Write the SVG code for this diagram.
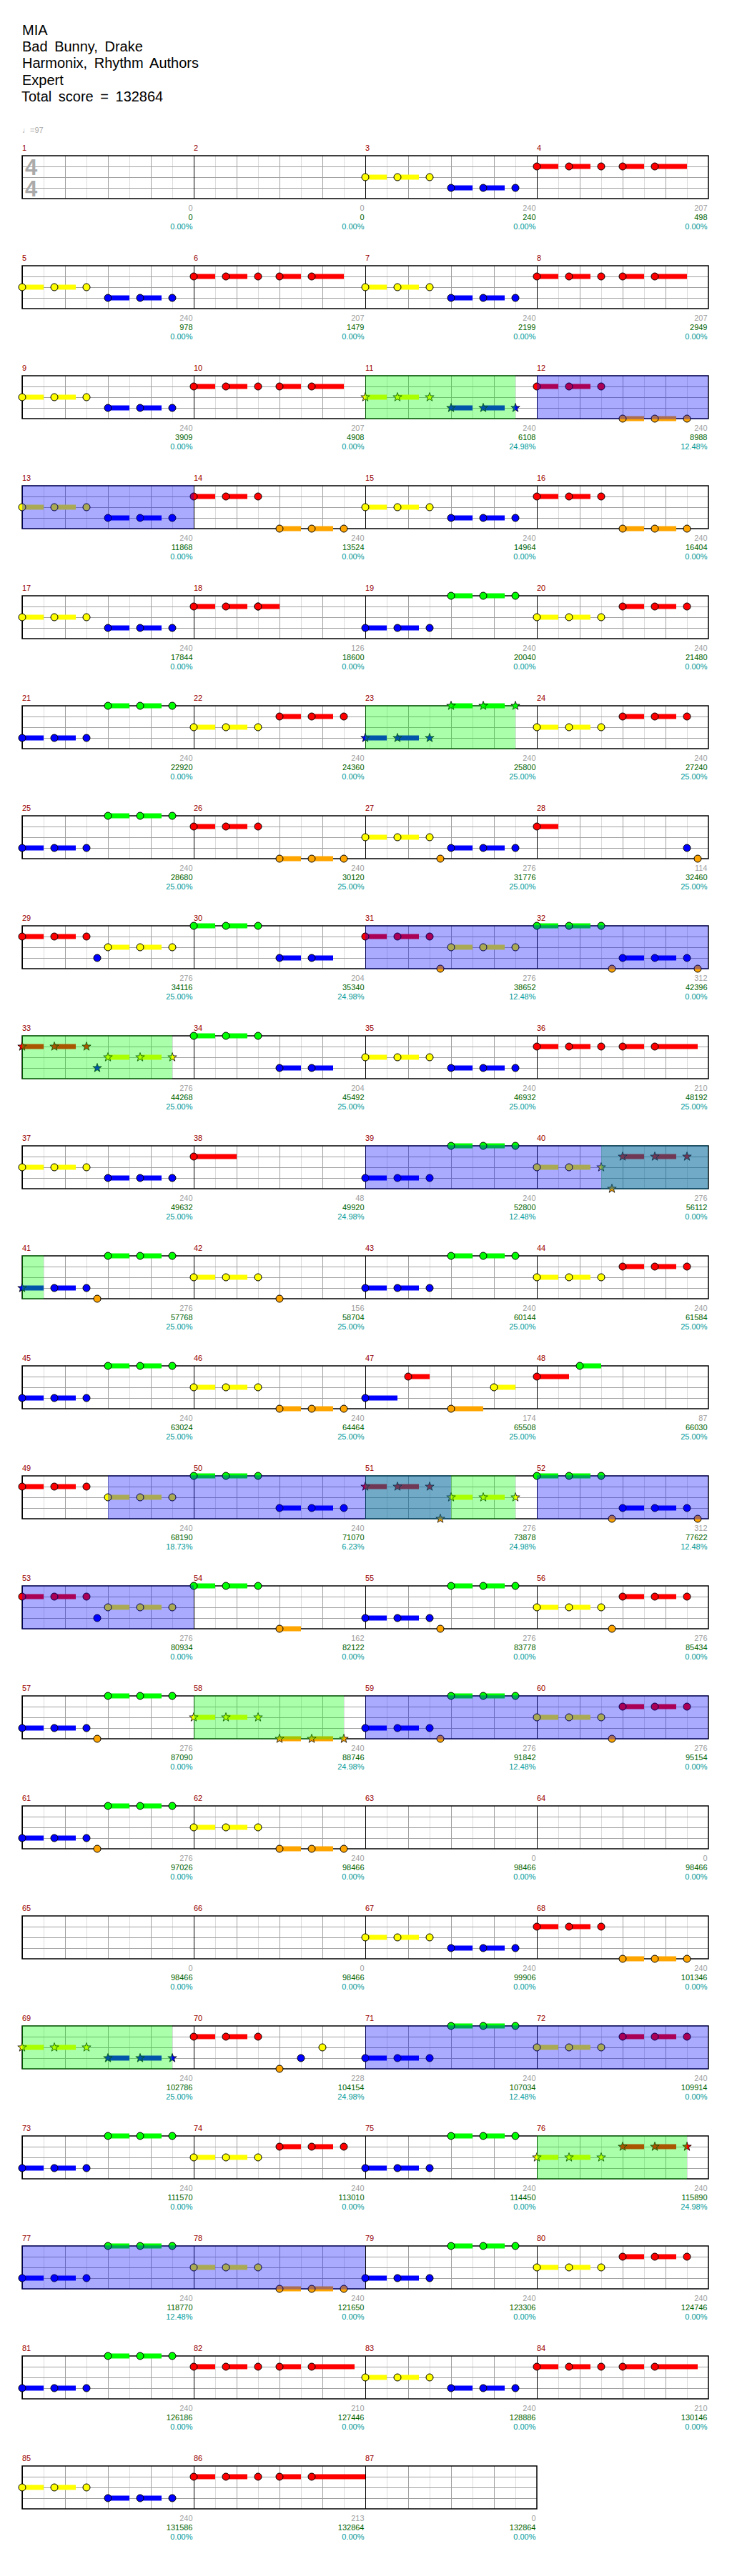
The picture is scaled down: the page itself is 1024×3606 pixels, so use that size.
<svg xmlns="http://www.w3.org/2000/svg" xmlns:xlink="http://www.w3.org/1999/xlink" width="1024" height="3606" viewBox="0 0 1024 3606">
<style>
.G{fill:#00ff00}.R{fill:#ff0000}.Y{fill:#ffff00}.B{fill:#0000ff}.O{fill:#ffa500}
.gl{stroke:#dcdcdc;fill:none;shape-rendering:crispEdges}
.gd{stroke:#a0a0a0;fill:none;shape-rendering:crispEdges}
.gk{stroke:#000;fill:none;shape-rendering:crispEdges}
.bd{fill:none;stroke:#000;stroke-width:1.5}
text{font-family:"Liberation Sans",Arial,"DejaVu Sans",sans-serif}
.ti{font-size:20px;fill:#000;word-spacing:4px}
.tp{font-size:11px;fill:#aaaaaa}
.ts{font-size:31px;font-weight:bold;fill:#aaaaaa}
.mn{font-size:11px;fill:#990000}
.a,.b,.c{font-size:11px;text-anchor:end}
.a{fill:#a0a0a0}.b{fill:#006400}.c{fill:#009999}
.ov1{fill:#00ff00;fill-opacity:.333}
.ov2{fill:#0000ff;fill-opacity:.333}
</style>
<defs>
<circle id="hd" r="5" stroke="#000" stroke-width="1"/>
<path id="st" d="M0,-6.5L1.53,-2.1 6.18,-2.01 2.47,0.8 3.82,5.26 0,2.6 -3.82,5.26 -2.47,0.8 -6.18,-2.01 -1.53,-2.1Z" stroke="#000" stroke-width=".8"/>
<g id="t3"><rect y="-3.5" width="30" height="7"/><rect x="45" y="-3.5" width="30" height="7"/><use href="#hd"/><use href="#hd" x="45"/><use href="#hd" x="90"/></g>
<g id="s3"><rect y="-3.5" width="30" height="7"/><rect x="45" y="-3.5" width="30" height="7"/><use href="#st"/><use href="#st" x="45"/><use href="#st" x="90"/></g>
<g id="rp3"><use href="#t3"/><rect x="120" y="-3.5" width="30" height="7"/><rect x="165" y="-3.5" width="45" height="7"/><use href="#hd" x="120"/><use href="#hd" x="165"/></g>
<g id="rp4"><use href="#t3"/><rect x="120" y="-3.5" width="30" height="7"/><rect x="165" y="-3.5" width="60" height="7"/><use href="#hd" x="120"/><use href="#hd" x="165"/></g>
<g id="rp5"><use href="#t3"/><rect x="120" y="-3.5" width="30" height="7"/><rect x="165" y="-3.5" width="75" height="7"/><use href="#hd" x="120"/><use href="#hd" x="165"/></g>
<g id="mg">
<path class="gl" d="M30 0V60M90 0V60M150 0V60M210 0V60"/>
<path class="gd" d="M60 0V60M120 0V60M180 0V60M0 15H240M0 30H240M0 45H240"/>
<path class="gk" d="M0 0V60"/>
</g>
<g id="g4"><use href="#mg"/><use href="#mg" x="240"/><use href="#mg" x="480"/><use href="#mg" x="720"/><rect width="960" height="60" class="bd"/></g>
<g id="g3"><use href="#mg"/><use href="#mg" x="240"/><use href="#mg" x="480"/><rect width="720" height="60" class="bd"/></g>
</defs>
<rect width="1024" height="3606" fill="#fff"/>
<g id="header">
<text class="ti" x="31" y="49">MIA</text>
<text class="ti" x="31" y="72">Bad Bunny, Drake</text>
<text class="ti" x="31" y="95">Harmonix, Rhythm Authors</text>
<text class="ti" x="31" y="118.5">Expert</text>
<text class="ti" x="30" y="141.5">Total score = 132864</text>
<text class="tp" x="31" y="186">♩=97</text>
</g>
<g id="grid">
<use href="#g4" x="31" y="218"/><use href="#g4" x="31" y="372"/><use href="#g4" x="31" y="526"/><use href="#g4" x="31" y="680"/>
<use href="#g4" x="31" y="834"/><use href="#g4" x="31" y="988"/><use href="#g4" x="31" y="1142"/><use href="#g4" x="31" y="1296"/>
<use href="#g4" x="31" y="1450"/><use href="#g4" x="31" y="1604"/><use href="#g4" x="31" y="1758"/><use href="#g4" x="31" y="1912"/>
<use href="#g4" x="31" y="2066"/><use href="#g4" x="31" y="2220"/><use href="#g4" x="31" y="2374"/><use href="#g4" x="31" y="2528"/>
<use href="#g4" x="31" y="2682"/><use href="#g4" x="31" y="2836"/><use href="#g4" x="31" y="2990"/><use href="#g4" x="31" y="3144"/>
<use href="#g4" x="31" y="3298"/><use href="#g3" x="31" y="3452"/>
<text class="ts" x="35" y="245">4</text><text class="ts" x="35" y="275">4</text>
</g>
<g id="measures">
<g id="m1" transform="translate(31,218)"><text class="mn" y="-7">1</text><text class="a" x="238.5" y="77">0</text><text class="b" x="238.5" y="90">0</text><text class="c" x="238.5" y="103">0.00%</text></g>
<g id="m2" transform="translate(271,218)"><text class="mn" y="-7">2</text><text class="a" x="238.5" y="77">0</text><text class="b" x="238.5" y="90">0</text><text class="c" x="238.5" y="103">0.00%</text></g>
<g id="m3" transform="translate(511,218)"><text class="mn" y="-7">3</text><use href="#t3" class="Y" y="30"/><use href="#t3" class="B" x="120" y="45"/><text class="a" x="238.5" y="77">240</text><text class="b" x="238.5" y="90">240</text><text class="c" x="238.5" y="103">0.00%</text></g>
<g id="m4" transform="translate(751,218)"><text class="mn" y="-7">4</text><use href="#rp3" class="R" y="15"/><text class="a" x="238.5" y="77">207</text><text class="b" x="238.5" y="90">498</text><text class="c" x="238.5" y="103">0.00%</text></g>

<g id="m5" transform="translate(31,372)"><text class="mn" y="-7">5</text><use href="#t3" class="Y" y="30"/><use href="#t3" class="B" x="120" y="45"/><text class="a" x="238.5" y="77">240</text><text class="b" x="238.5" y="90">978</text><text class="c" x="238.5" y="103">0.00%</text></g>
<g id="m6" transform="translate(271,372)"><text class="mn" y="-7">6</text><use href="#rp3" class="R" y="15"/><text class="a" x="238.5" y="77">207</text><text class="b" x="238.5" y="90">1479</text><text class="c" x="238.5" y="103">0.00%</text></g>
<g id="m7" transform="translate(511,372)"><text class="mn" y="-7">7</text><use href="#t3" class="Y" y="30"/><use href="#t3" class="B" x="120" y="45"/><text class="a" x="238.5" y="77">240</text><text class="b" x="238.5" y="90">2199</text><text class="c" x="238.5" y="103">0.00%</text></g>
<g id="m8" transform="translate(751,372)"><text class="mn" y="-7">8</text><use href="#rp3" class="R" y="15"/><text class="a" x="238.5" y="77">207</text><text class="b" x="238.5" y="90">2949</text><text class="c" x="238.5" y="103">0.00%</text></g>

<g id="m9" transform="translate(31,526)"><text class="mn" y="-7">9</text><use href="#t3" class="Y" y="30"/><use href="#t3" class="B" x="120" y="45"/><text class="a" x="238.5" y="77">240</text><text class="b" x="238.5" y="90">3909</text><text class="c" x="238.5" y="103">0.00%</text></g>
<g id="m10" transform="translate(271,526)"><text class="mn" y="-7">10</text><use href="#rp3" class="R" y="15"/><text class="a" x="238.5" y="77">207</text><text class="b" x="238.5" y="90">4908</text><text class="c" x="238.5" y="103">0.00%</text></g>
<g id="m11" transform="translate(511,526)"><text class="mn" y="-7">11</text><use href="#s3" class="Y" y="30"/><use href="#s3" class="B" x="120" y="45"/><text class="a" x="238.5" y="77">240</text><text class="b" x="238.5" y="90">6108</text><text class="c" x="238.5" y="103">24.98%</text></g>
<g id="m12" transform="translate(751,526)"><text class="mn" y="-7">12</text><use href="#t3" class="R" y="15"/><use href="#t3" class="O" x="120" y="60"/><text class="a" x="238.5" y="77">240</text><text class="b" x="238.5" y="90">8988</text><text class="c" x="238.5" y="103">12.48%</text></g>

<g id="m13" transform="translate(31,680)"><text class="mn" y="-7">13</text><use href="#t3" class="Y" y="30"/><use href="#t3" class="B" x="120" y="45"/><text class="a" x="238.5" y="77">240</text><text class="b" x="238.5" y="90">11868</text><text class="c" x="238.5" y="103">0.00%</text></g>
<g id="m14" transform="translate(271,680)"><text class="mn" y="-7">14</text><use href="#t3" class="R" y="15"/><use href="#t3" class="O" x="120" y="60"/><text class="a" x="238.5" y="77">240</text><text class="b" x="238.5" y="90">13524</text><text class="c" x="238.5" y="103">0.00%</text></g>
<g id="m15" transform="translate(511,680)"><text class="mn" y="-7">15</text><use href="#t3" class="Y" y="30"/><use href="#t3" class="B" x="120" y="45"/><text class="a" x="238.5" y="77">240</text><text class="b" x="238.5" y="90">14964</text><text class="c" x="238.5" y="103">0.00%</text></g>
<g id="m16" transform="translate(751,680)"><text class="mn" y="-7">16</text><use href="#t3" class="R" y="15"/><use href="#t3" class="O" x="120" y="60"/><text class="a" x="238.5" y="77">240</text><text class="b" x="238.5" y="90">16404</text><text class="c" x="238.5" y="103">0.00%</text></g>

<g id="m17" transform="translate(31,834)"><text class="mn" y="-7">17</text><use href="#t3" class="Y" y="30"/><use href="#t3" class="B" x="120" y="45"/><text class="a" x="238.5" y="77">240</text><text class="b" x="238.5" y="90">17844</text><text class="c" x="238.5" y="103">0.00%</text></g>
<g id="m18" transform="translate(271,834)"><text class="mn" y="-7">18</text><use href="#t3" class="R" y="15"/><rect class="R" x="90" y="11.5" width="30" height="7"/><use href="#hd" class="R" x="90" y="15"/><text class="a" x="238.5" y="77">126</text><text class="b" x="238.5" y="90">18600</text><text class="c" x="238.5" y="103">0.00%</text></g>
<g id="m19" transform="translate(511,834)"><text class="mn" y="-7">19</text><use href="#t3" class="B" y="45"/><use href="#t3" class="G" x="120"/><text class="a" x="238.5" y="77">240</text><text class="b" x="238.5" y="90">20040</text><text class="c" x="238.5" y="103">0.00%</text></g>
<g id="m20" transform="translate(751,834)"><text class="mn" y="-7">20</text><use href="#t3" class="Y" y="30"/><use href="#t3" class="R" x="120" y="15"/><text class="a" x="238.5" y="77">240</text><text class="b" x="238.5" y="90">21480</text><text class="c" x="238.5" y="103">0.00%</text></g>

<g id="m21" transform="translate(31,988)"><text class="mn" y="-7">21</text><use href="#t3" class="B" y="45"/><use href="#t3" class="G" x="120"/><text class="a" x="238.5" y="77">240</text><text class="b" x="238.5" y="90">22920</text><text class="c" x="238.5" y="103">0.00%</text></g>
<g id="m22" transform="translate(271,988)"><text class="mn" y="-7">22</text><use href="#t3" class="Y" y="30"/><use href="#t3" class="R" x="120" y="15"/><text class="a" x="238.5" y="77">240</text><text class="b" x="238.5" y="90">24360</text><text class="c" x="238.5" y="103">0.00%</text></g>
<g id="m23" transform="translate(511,988)"><text class="mn" y="-7">23</text><use href="#s3" class="B" y="45"/><use href="#s3" class="G" x="120"/><text class="a" x="238.5" y="77">240</text><text class="b" x="238.5" y="90">25800</text><text class="c" x="238.5" y="103">25.00%</text></g>
<g id="m24" transform="translate(751,988)"><text class="mn" y="-7">24</text><use href="#t3" class="Y" y="30"/><use href="#t3" class="R" x="120" y="15"/><text class="a" x="238.5" y="77">240</text><text class="b" x="238.5" y="90">27240</text><text class="c" x="238.5" y="103">25.00%</text></g>

<g id="m25" transform="translate(31,1142)"><text class="mn" y="-7">25</text><use href="#t3" class="B" y="45"/><use href="#t3" class="G" x="120"/><text class="a" x="238.5" y="77">240</text><text class="b" x="238.5" y="90">28680</text><text class="c" x="238.5" y="103">25.00%</text></g>
<g id="m26" transform="translate(271,1142)"><text class="mn" y="-7">26</text><use href="#t3" class="R" y="15"/><use href="#t3" class="O" x="120" y="60"/><text class="a" x="238.5" y="77">240</text><text class="b" x="238.5" y="90">30120</text><text class="c" x="238.5" y="103">25.00%</text></g>
<g id="m27" transform="translate(511,1142)"><text class="mn" y="-7">27</text><use href="#t3" class="Y" y="30"/><use href="#hd" class="O" x="105" y="60"/><use href="#t3" class="B" x="120" y="45"/><text class="a" x="238.5" y="77">276</text><text class="b" x="238.5" y="90">31776</text><text class="c" x="238.5" y="103">25.00%</text></g>
<g id="m28" transform="translate(751,1142)"><text class="mn" y="-7">28</text><rect class="R" y="11.5" width="30" height="7"/><use href="#hd" class="R" y="15"/><use href="#hd" class="B" x="210" y="45"/><use href="#hd" class="O" x="225" y="60"/><text class="a" x="238.5" y="77">114</text><text class="b" x="238.5" y="90">32460</text><text class="c" x="238.5" y="103">25.00%</text></g>

<g id="m29" transform="translate(31,1296)"><text class="mn" y="-7">29</text><use href="#t3" class="R" y="15"/><use href="#hd" class="B" x="105" y="45"/><use href="#t3" class="Y" x="120" y="30"/><text class="a" x="238.5" y="77">276</text><text class="b" x="238.5" y="90">34116</text><text class="c" x="238.5" y="103">25.00%</text></g>
<g id="m30" transform="translate(271,1296)"><text class="mn" y="-7">30</text><use href="#t3" class="G"/><rect class="B" x="120" y="41.5" width="30" height="7"/><rect class="B" x="165" y="41.5" width="30" height="7"/><use href="#hd" class="B" x="120" y="45"/><use href="#hd" class="B" x="165" y="45"/><text class="a" x="238.5" y="77">204</text><text class="b" x="238.5" y="90">35340</text><text class="c" x="238.5" y="103">24.98%</text></g>
<g id="m31" transform="translate(511,1296)"><text class="mn" y="-7">31</text><use href="#t3" class="R" y="15"/><use href="#hd" class="O" x="105" y="60"/><use href="#t3" class="Y" x="120" y="30"/><text class="a" x="238.5" y="77">276</text><text class="b" x="238.5" y="90">38652</text><text class="c" x="238.5" y="103">12.48%</text></g>
<g id="m32" transform="translate(751,1296)"><text class="mn" y="-7">32</text><use href="#t3" class="G"/><use href="#hd" class="O" x="105" y="60"/><use href="#t3" class="B" x="120" y="45"/><use href="#hd" class="O" x="225" y="60"/><text class="a" x="238.5" y="77">312</text><text class="b" x="238.5" y="90">42396</text><text class="c" x="238.5" y="103">0.00%</text></g>

<g id="m33" transform="translate(31,1450)"><text class="mn" y="-7">33</text><use href="#s3" class="R" y="15"/><use href="#st" class="B" x="105" y="45"/><use href="#s3" class="Y" x="120" y="30"/><text class="a" x="238.5" y="77">276</text><text class="b" x="238.5" y="90">44268</text><text class="c" x="238.5" y="103">25.00%</text></g>
<g id="m34" transform="translate(271,1450)"><text class="mn" y="-7">34</text><use href="#t3" class="G"/><rect class="B" x="120" y="41.5" width="30" height="7"/><rect class="B" x="165" y="41.5" width="30" height="7"/><use href="#hd" class="B" x="120" y="45"/><use href="#hd" class="B" x="165" y="45"/><text class="a" x="238.5" y="77">204</text><text class="b" x="238.5" y="90">45492</text><text class="c" x="238.5" y="103">25.00%</text></g>
<g id="m35" transform="translate(511,1450)"><text class="mn" y="-7">35</text><use href="#t3" class="Y" y="30"/><use href="#t3" class="B" x="120" y="45"/><text class="a" x="238.5" y="77">240</text><text class="b" x="238.5" y="90">46932</text><text class="c" x="238.5" y="103">25.00%</text></g>
<g id="m36" transform="translate(751,1450)"><text class="mn" y="-7">36</text><use href="#rp4" class="R" y="15"/><text class="a" x="238.5" y="77">210</text><text class="b" x="238.5" y="90">48192</text><text class="c" x="238.5" y="103">25.00%</text></g>

<g id="m37" transform="translate(31,1604)"><text class="mn" y="-7">37</text><use href="#t3" class="Y" y="30"/><use href="#t3" class="B" x="120" y="45"/><text class="a" x="238.5" y="77">240</text><text class="b" x="238.5" y="90">49632</text><text class="c" x="238.5" y="103">25.00%</text></g>
<g id="m38" transform="translate(271,1604)"><text class="mn" y="-7">38</text><rect class="R" y="11.5" width="60" height="7"/><use href="#hd" class="R" y="15"/><text class="a" x="238.5" y="77">48</text><text class="b" x="238.5" y="90">49920</text><text class="c" x="238.5" y="103">24.98%</text></g>
<g id="m39" transform="translate(511,1604)"><text class="mn" y="-7">39</text><use href="#t3" class="B" y="45"/><use href="#t3" class="G" x="120"/><text class="a" x="238.5" y="77">240</text><text class="b" x="238.5" y="90">52800</text><text class="c" x="238.5" y="103">12.48%</text></g>
<g id="m40" transform="translate(751,1604)"><text class="mn" y="-7">40</text><rect class="Y" y="26.5" width="30" height="7"/><rect class="Y" x="45" y="26.5" width="30" height="7"/><use href="#hd" class="Y" y="30"/><use href="#hd" class="Y" x="45" y="30"/><use href="#st" class="Y" x="90" y="30"/><use href="#st" class="O" x="105" y="60"/><use href="#s3" class="R" x="120" y="15"/><text class="a" x="238.5" y="77">276</text><text class="b" x="238.5" y="90">56112</text><text class="c" x="238.5" y="103">0.00%</text></g>

<g id="m41" transform="translate(31,1758)"><text class="mn" y="-7">41</text><rect class="B" y="41.5" width="30" height="7"/><rect class="B" x="45" y="41.5" width="30" height="7"/><use href="#st" class="B" y="45"/><use href="#hd" class="B" x="45" y="45"/><use href="#hd" class="B" x="90" y="45"/><use href="#hd" class="O" x="105" y="60"/><use href="#t3" class="G" x="120"/><text class="a" x="238.5" y="77">276</text><text class="b" x="238.5" y="90">57768</text><text class="c" x="238.5" y="103">25.00%</text></g>
<g id="m42" transform="translate(271,1758)"><text class="mn" y="-7">42</text><use href="#t3" class="Y" y="30"/><use href="#hd" class="O" x="120" y="60"/><text class="a" x="238.5" y="77">156</text><text class="b" x="238.5" y="90">58704</text><text class="c" x="238.5" y="103">25.00%</text></g>
<g id="m43" transform="translate(511,1758)"><text class="mn" y="-7">43</text><use href="#t3" class="B" y="45"/><use href="#t3" class="G" x="120"/><text class="a" x="238.5" y="77">240</text><text class="b" x="238.5" y="90">60144</text><text class="c" x="238.5" y="103">25.00%</text></g>
<g id="m44" transform="translate(751,1758)"><text class="mn" y="-7">44</text><use href="#t3" class="Y" y="30"/><use href="#t3" class="R" x="120" y="15"/><text class="a" x="238.5" y="77">240</text><text class="b" x="238.5" y="90">61584</text><text class="c" x="238.5" y="103">25.00%</text></g>

<g id="m45" transform="translate(31,1912)"><text class="mn" y="-7">45</text><use href="#t3" class="B" y="45"/><use href="#t3" class="G" x="120"/><text class="a" x="238.5" y="77">240</text><text class="b" x="238.5" y="90">63024</text><text class="c" x="238.5" y="103">25.00%</text></g>
<g id="m46" transform="translate(271,1912)"><text class="mn" y="-7">46</text><use href="#t3" class="Y" y="30"/><use href="#t3" class="O" x="120" y="60"/><text class="a" x="238.5" y="77">240</text><text class="b" x="238.5" y="90">64464</text><text class="c" x="238.5" y="103">25.00%</text></g>
<g id="m47" transform="translate(511,1912)"><text class="mn" y="-7">47</text><rect class="B" y="41.5" width="45" height="7"/><rect class="R" x="60" y="11.5" width="30" height="7"/><rect class="O" x="120" y="56.5" width="45" height="7"/><rect class="Y" x="180" y="26.5" width="30" height="7"/><use href="#hd" class="B" y="45"/><use href="#hd" class="R" x="60" y="15"/><use href="#hd" class="O" x="120" y="60"/><use href="#hd" class="Y" x="180" y="30"/><text class="a" x="238.5" y="77">174</text><text class="b" x="238.5" y="90">65508</text><text class="c" x="238.5" y="103">25.00%</text></g>
<g id="m48" transform="translate(751,1912)"><text class="mn" y="-7">48</text><rect class="R" y="11.5" width="45" height="7"/><rect class="G" x="60" y="-3.5" width="30" height="7"/><use href="#hd" class="R" y="15"/><use href="#hd" class="G" x="60"/><text class="a" x="238.5" y="77">87</text><text class="b" x="238.5" y="90">66030</text><text class="c" x="238.5" y="103">25.00%</text></g>

<g id="m49" transform="translate(31,2066)"><text class="mn" y="-7">49</text><use href="#t3" class="R" y="15"/><use href="#t3" class="Y" x="120" y="30"/><text class="a" x="238.5" y="77">240</text><text class="b" x="238.5" y="90">68190</text><text class="c" x="238.5" y="103">18.73%</text></g>
<g id="m50" transform="translate(271,2066)"><text class="mn" y="-7">50</text><use href="#t3" class="G"/><use href="#t3" class="B" x="120" y="45"/><text class="a" x="238.5" y="77">240</text><text class="b" x="238.5" y="90">71070</text><text class="c" x="238.5" y="103">6.23%</text></g>
<g id="m51" transform="translate(511,2066)"><text class="mn" y="-7">51</text><use href="#s3" class="R" y="15"/><use href="#st" class="O" x="105" y="60"/><use href="#s3" class="Y" x="120" y="30"/><text class="a" x="238.5" y="77">276</text><text class="b" x="238.5" y="90">73878</text><text class="c" x="238.5" y="103">24.98%</text></g>
<g id="m52" transform="translate(751,2066)"><text class="mn" y="-7">52</text><use href="#t3" class="G"/><use href="#hd" class="O" x="105" y="60"/><use href="#t3" class="B" x="120" y="45"/><use href="#hd" class="O" x="225" y="60"/><text class="a" x="238.5" y="77">312</text><text class="b" x="238.5" y="90">77622</text><text class="c" x="238.5" y="103">12.48%</text></g>

<g id="m53" transform="translate(31,2220)"><text class="mn" y="-7">53</text><use href="#t3" class="R" y="15"/><use href="#hd" class="B" x="105" y="45"/><use href="#t3" class="Y" x="120" y="30"/><text class="a" x="238.5" y="77">276</text><text class="b" x="238.5" y="90">80934</text><text class="c" x="238.5" y="103">0.00%</text></g>
<g id="m54" transform="translate(271,2220)"><text class="mn" y="-7">54</text><use href="#t3" class="G"/><rect class="O" x="120" y="56.5" width="30" height="7"/><use href="#hd" class="O" x="120" y="60"/><text class="a" x="238.5" y="77">162</text><text class="b" x="238.5" y="90">82122</text><text class="c" x="238.5" y="103">0.00%</text></g>
<g id="m55" transform="translate(511,2220)"><text class="mn" y="-7">55</text><use href="#t3" class="B" y="45"/><use href="#hd" class="O" x="105" y="60"/><use href="#t3" class="G" x="120"/><text class="a" x="238.5" y="77">276</text><text class="b" x="238.5" y="90">83778</text><text class="c" x="238.5" y="103">0.00%</text></g>
<g id="m56" transform="translate(751,2220)"><text class="mn" y="-7">56</text><use href="#t3" class="Y" y="30"/><use href="#hd" class="O" x="105" y="60"/><use href="#t3" class="R" x="120" y="15"/><text class="a" x="238.5" y="77">276</text><text class="b" x="238.5" y="90">85434</text><text class="c" x="238.5" y="103">0.00%</text></g>

<g id="m57" transform="translate(31,2374)"><text class="mn" y="-7">57</text><use href="#t3" class="B" y="45"/><use href="#hd" class="O" x="105" y="60"/><use href="#t3" class="G" x="120"/><text class="a" x="238.5" y="77">276</text><text class="b" x="238.5" y="90">87090</text><text class="c" x="238.5" y="103">0.00%</text></g>
<g id="m58" transform="translate(271,2374)"><text class="mn" y="-7">58</text><use href="#s3" class="Y" y="30"/><use href="#s3" class="O" x="120" y="60"/><text class="a" x="238.5" y="77">240</text><text class="b" x="238.5" y="90">88746</text><text class="c" x="238.5" y="103">24.98%</text></g>
<g id="m59" transform="translate(511,2374)"><text class="mn" y="-7">59</text><use href="#t3" class="B" y="45"/><use href="#hd" class="O" x="105" y="60"/><use href="#t3" class="G" x="120"/><text class="a" x="238.5" y="77">276</text><text class="b" x="238.5" y="90">91842</text><text class="c" x="238.5" y="103">12.48%</text></g>
<g id="m60" transform="translate(751,2374)"><text class="mn" y="-7">60</text><use href="#t3" class="Y" y="30"/><use href="#hd" class="O" x="105" y="60"/><use href="#t3" class="R" x="120" y="15"/><text class="a" x="238.5" y="77">276</text><text class="b" x="238.5" y="90">95154</text><text class="c" x="238.5" y="103">0.00%</text></g>

<g id="m61" transform="translate(31,2528)"><text class="mn" y="-7">61</text><use href="#t3" class="B" y="45"/><use href="#hd" class="O" x="105" y="60"/><use href="#t3" class="G" x="120"/><text class="a" x="238.5" y="77">276</text><text class="b" x="238.5" y="90">97026</text><text class="c" x="238.5" y="103">0.00%</text></g>
<g id="m62" transform="translate(271,2528)"><text class="mn" y="-7">62</text><use href="#t3" class="Y" y="30"/><use href="#t3" class="O" x="120" y="60"/><text class="a" x="238.5" y="77">240</text><text class="b" x="238.5" y="90">98466</text><text class="c" x="238.5" y="103">0.00%</text></g>
<g id="m63" transform="translate(511,2528)"><text class="mn" y="-7">63</text><text class="a" x="238.5" y="77">0</text><text class="b" x="238.5" y="90">98466</text><text class="c" x="238.5" y="103">0.00%</text></g>
<g id="m64" transform="translate(751,2528)"><text class="mn" y="-7">64</text><text class="a" x="238.5" y="77">0</text><text class="b" x="238.5" y="90">98466</text><text class="c" x="238.5" y="103">0.00%</text></g>

<g id="m65" transform="translate(31,2682)"><text class="mn" y="-7">65</text><text class="a" x="238.5" y="77">0</text><text class="b" x="238.5" y="90">98466</text><text class="c" x="238.5" y="103">0.00%</text></g>
<g id="m66" transform="translate(271,2682)"><text class="mn" y="-7">66</text><text class="a" x="238.5" y="77">0</text><text class="b" x="238.5" y="90">98466</text><text class="c" x="238.5" y="103">0.00%</text></g>
<g id="m67" transform="translate(511,2682)"><text class="mn" y="-7">67</text><use href="#t3" class="Y" y="30"/><use href="#t3" class="B" x="120" y="45"/><text class="a" x="238.5" y="77">240</text><text class="b" x="238.5" y="90">99906</text><text class="c" x="238.5" y="103">0.00%</text></g>
<g id="m68" transform="translate(751,2682)"><text class="mn" y="-7">68</text><use href="#t3" class="R" y="15"/><use href="#t3" class="O" x="120" y="60"/><text class="a" x="238.5" y="77">240</text><text class="b" x="238.5" y="90">101346</text><text class="c" x="238.5" y="103">0.00%</text></g>

<g id="m69" transform="translate(31,2836)"><text class="mn" y="-7">69</text><use href="#s3" class="Y" y="30"/><use href="#s3" class="B" x="120" y="45"/><text class="a" x="238.5" y="77">240</text><text class="b" x="238.5" y="90">102786</text><text class="c" x="238.5" y="103">25.00%</text></g>
<g id="m70" transform="translate(271,2836)"><text class="mn" y="-7">70</text><use href="#t3" class="R" y="15"/><use href="#hd" class="O" x="120" y="60"/><use href="#hd" class="B" x="150" y="45"/><use href="#hd" class="Y" x="180" y="30"/><text class="a" x="238.5" y="77">228</text><text class="b" x="238.5" y="90">104154</text><text class="c" x="238.5" y="103">24.98%</text></g>
<g id="m71" transform="translate(511,2836)"><text class="mn" y="-7">71</text><use href="#t3" class="B" y="45"/><use href="#t3" class="G" x="120"/><text class="a" x="238.5" y="77">240</text><text class="b" x="238.5" y="90">107034</text><text class="c" x="238.5" y="103">12.48%</text></g>
<g id="m72" transform="translate(751,2836)"><text class="mn" y="-7">72</text><use href="#t3" class="Y" y="30"/><use href="#t3" class="R" x="120" y="15"/><text class="a" x="238.5" y="77">240</text><text class="b" x="238.5" y="90">109914</text><text class="c" x="238.5" y="103">0.00%</text></g>

<g id="m73" transform="translate(31,2990)"><text class="mn" y="-7">73</text><use href="#t3" class="B" y="45"/><use href="#t3" class="G" x="120"/><text class="a" x="238.5" y="77">240</text><text class="b" x="238.5" y="90">111570</text><text class="c" x="238.5" y="103">0.00%</text></g>
<g id="m74" transform="translate(271,2990)"><text class="mn" y="-7">74</text><use href="#t3" class="Y" y="30"/><use href="#t3" class="R" x="120" y="15"/><text class="a" x="238.5" y="77">240</text><text class="b" x="238.5" y="90">113010</text><text class="c" x="238.5" y="103">0.00%</text></g>
<g id="m75" transform="translate(511,2990)"><text class="mn" y="-7">75</text><use href="#t3" class="B" y="45"/><use href="#t3" class="G" x="120"/><text class="a" x="238.5" y="77">240</text><text class="b" x="238.5" y="90">114450</text><text class="c" x="238.5" y="103">0.00%</text></g>
<g id="m76" transform="translate(751,2990)"><text class="mn" y="-7">76</text><use href="#s3" class="Y" y="30"/><use href="#s3" class="R" x="120" y="15"/><text class="a" x="238.5" y="77">240</text><text class="b" x="238.5" y="90">115890</text><text class="c" x="238.5" y="103">24.98%</text></g>

<g id="m77" transform="translate(31,3144)"><text class="mn" y="-7">77</text><use href="#t3" class="B" y="45"/><use href="#t3" class="G" x="120"/><text class="a" x="238.5" y="77">240</text><text class="b" x="238.5" y="90">118770</text><text class="c" x="238.5" y="103">12.48%</text></g>
<g id="m78" transform="translate(271,3144)"><text class="mn" y="-7">78</text><use href="#t3" class="Y" y="30"/><use href="#t3" class="O" x="120" y="60"/><text class="a" x="238.5" y="77">240</text><text class="b" x="238.5" y="90">121650</text><text class="c" x="238.5" y="103">0.00%</text></g>
<g id="m79" transform="translate(511,3144)"><text class="mn" y="-7">79</text><use href="#t3" class="B" y="45"/><use href="#t3" class="G" x="120"/><text class="a" x="238.5" y="77">240</text><text class="b" x="238.5" y="90">123306</text><text class="c" x="238.5" y="103">0.00%</text></g>
<g id="m80" transform="translate(751,3144)"><text class="mn" y="-7">80</text><use href="#t3" class="Y" y="30"/><use href="#t3" class="R" x="120" y="15"/><text class="a" x="238.5" y="77">240</text><text class="b" x="238.5" y="90">124746</text><text class="c" x="238.5" y="103">0.00%</text></g>

<g id="m81" transform="translate(31,3298)"><text class="mn" y="-7">81</text><use href="#t3" class="B" y="45"/><use href="#t3" class="G" x="120"/><text class="a" x="238.5" y="77">240</text><text class="b" x="238.5" y="90">126186</text><text class="c" x="238.5" y="103">0.00%</text></g>
<g id="m82" transform="translate(271,3298)"><text class="mn" y="-7">82</text><use href="#rp4" class="R" y="15"/><text class="a" x="238.5" y="77">210</text><text class="b" x="238.5" y="90">127446</text><text class="c" x="238.5" y="103">0.00%</text></g>
<g id="m83" transform="translate(511,3298)"><text class="mn" y="-7">83</text><use href="#t3" class="Y" y="30"/><use href="#t3" class="B" x="120" y="45"/><text class="a" x="238.5" y="77">240</text><text class="b" x="238.5" y="90">128886</text><text class="c" x="238.5" y="103">0.00%</text></g>
<g id="m84" transform="translate(751,3298)"><text class="mn" y="-7">84</text><use href="#rp4" class="R" y="15"/><text class="a" x="238.5" y="77">210</text><text class="b" x="238.5" y="90">130146</text><text class="c" x="238.5" y="103">0.00%</text></g>

<g id="m85" transform="translate(31,3452)"><text class="mn" y="-7">85</text><use href="#t3" class="Y" y="30"/><use href="#t3" class="B" x="120" y="45"/><text class="a" x="238.5" y="77">240</text><text class="b" x="238.5" y="90">131586</text><text class="c" x="238.5" y="103">0.00%</text></g>
<g id="m86" transform="translate(271,3452)"><text class="mn" y="-7">86</text><use href="#rp5" class="R" y="15"/><text class="a" x="238.5" y="77">213</text><text class="b" x="238.5" y="90">132864</text><text class="c" x="238.5" y="103">0.00%</text></g>
<g id="m87" transform="translate(511,3452)"><text class="mn" y="-7">87</text><text class="a" x="238.5" y="77">0</text><text class="b" x="238.5" y="90">132864</text><text class="c" x="238.5" y="103">0.00%</text></g>
</g>
<g id="overlays">
<rect class="ov1" x="511" y="525.25" width="210" height="61.5"/>
<rect class="ov2" x="751" y="525.25" width="239.5" height="61.5"/>
<rect class="ov2" x="31" y="679.25" width="240" height="61.5"/>
<rect class="ov1" x="511" y="987.25" width="210" height="61.5"/>
<rect class="ov2" x="511" y="1295.25" width="479.5" height="61.5"/>
<rect class="ov1" x="31" y="1449.25" width="210" height="61.5"/>
<rect class="ov1" x="841" y="1603.25" width="149.5" height="61.5"/>
<rect class="ov2" x="511" y="1603.25" width="479.5" height="61.5"/>
<rect class="ov1" x="31" y="1757.25" width="30" height="61.5"/>
<rect class="ov1" x="511" y="2065.25" width="210" height="61.5"/>
<rect class="ov2" x="151" y="2065.25" width="480" height="61.5"/>
<rect class="ov2" x="751" y="2065.25" width="239.5" height="61.5"/>
<rect class="ov2" x="31" y="2219.25" width="240" height="61.5"/>
<rect class="ov1" x="271" y="2373.25" width="210" height="61.5"/>
<rect class="ov2" x="511" y="2373.25" width="479.5" height="61.5"/>
<rect class="ov1" x="31" y="2835.25" width="210" height="61.5"/>
<rect class="ov2" x="511" y="2835.25" width="479.5" height="61.5"/>
<rect class="ov1" x="751" y="2989.25" width="210" height="61.5"/>
<rect class="ov2" x="31" y="3143.25" width="480" height="61.5"/>
</g>
</svg>
